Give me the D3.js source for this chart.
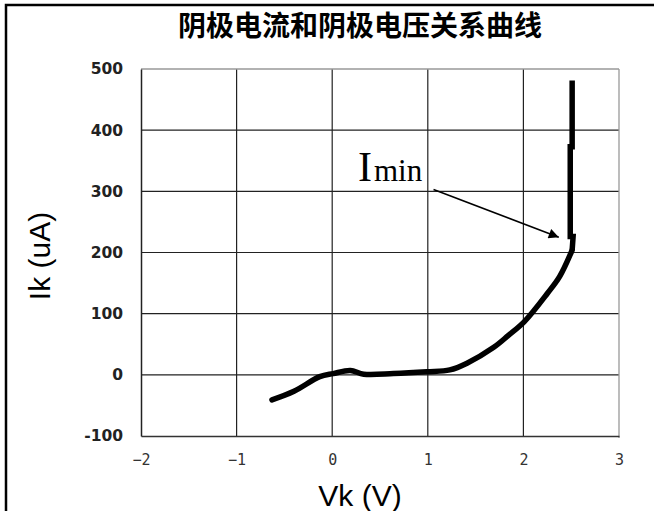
<!DOCTYPE html>
<html><head><meta charset="utf-8">
<script src="https://cdn.jsdelivr.net/npm/d3@7"></script>
<style>body{margin:0;background:#fff}svg{display:block}</style>
</head><body>
<svg id="c" width="654" height="511"></svg>
<script>
const title = "阴极电流和阴极电压关系曲线";
const xLabel = "Vk (V)";
const yLabel = "Ik (uA)";
const xTicks = [-2, -1, 0, 1, 2, 3];
const yTicks = [-100, 0, 100, 200, 300, 400, 500];
const vk = [-0.63, -0.40, -0.13, 0.01, 0.19, 0.33, 0.64, 0.99, 1.23, 1.41, 1.69, 1.84, 2.01, 2.25, 2.38, 2.51, 2.52, 2.49, 2.49, 2.51, 2.51];
const ik = [-41, -27, -3, 2, 7, 1, 2, 5, 8, 19, 45, 64, 87, 133, 161, 204, 226, 226, 373, 373, 481];
const annText = ["I", "min"];
const annLabelAt = [0.27, 317];
const arrowFrom = [1.06, 303];
const arrowTo = [2.37, 225];

const svg = d3.select("#c");
const x = d3.scaleLinear().domain([-2, 3]).range([141, 619]);
const y = d3.scaleLinear().domain([-100, 500]).range([436, 69]);

// outer frame
svg.append("rect").attr("x", 6).attr("y", 5).attr("width", 660).attr("height", 520)
  .attr("fill", "none").attr("stroke", "#000").attr("stroke-width", 2.5);

// title
svg.append("text").attr("x", 360).attr("y", 36).attr("text-anchor", "middle")
  .attr("font-family", "Noto Sans CJK SC").attr("font-weight", "bold").attr("font-size", 28)
  .text(title);

// grid
const g = svg.append("g");
g.selectAll("line.gx").data(xTicks.slice(1, -1)).join("line")
  .attr("x1", d => x(d)).attr("x2", d => x(d)).attr("y1", y(500)).attr("y2", y(-100))
  .attr("stroke", "#222").attr("stroke-width", 1.2);
g.selectAll("line.gy").data(yTicks.slice(1, -1)).join("line")
  .attr("y1", d => y(d)).attr("y2", d => y(d)).attr("x1", x(-2)).attr("x2", x(3))
  .attr("stroke", "#222").attr("stroke-width", 1.2);
g.append("line").attr("x1", x(-2)).attr("x2", x(3)).attr("y1", y(500)).attr("y2", y(500)).attr("stroke", "#999").attr("stroke-width", 1.3);
g.append("line").attr("x1", x(3)).attr("x2", x(3)).attr("y1", y(500)).attr("y2", y(-100) + 2).attr("stroke", "#999").attr("stroke-width", 1.3);

// axes
const xAxis = svg.append("g").attr("transform", `translate(0,${y(-100)})`)
  .call(d3.axisBottom(x).tickValues(xTicks).tickSize(0).tickPadding(18).tickFormat(d => d < 0 ? "\u2212" + Math.abs(d) : String(d)));
xAxis.select(".domain").attr("stroke", "#333").attr("stroke-width", 1.5);
xAxis.selectAll("text").attr("font-family", "DejaVu Sans Mono").attr("font-size", 15).attr("fill", "#333");

const yAxis = svg.append("g").attr("transform", `translate(${x(-2)},0)`)
  .call(d3.axisLeft(y).tickValues(yTicks).tickSize(0).tickPadding(18).tickFormat(d => String(d)));
yAxis.select(".domain").attr("stroke", "#222").attr("stroke-width", 1.5);
yAxis.selectAll("text").attr("font-family", "DejaVu Sans").attr("font-weight", "bold").attr("font-size", 15.5).attr("fill", "#222");

// axis titles
svg.append("text").attr("x", 360).attr("y", 506).attr("text-anchor", "middle")
  .attr("font-family", "Liberation Sans").attr("font-size", 30).text(xLabel);
svg.append("text").attr("transform", "translate(50,256) rotate(-90)").attr("text-anchor", "middle")
  .attr("font-family", "Liberation Sans").attr("font-size", 30).text(yLabel);

// curve: smooth rise, then the near-vertical part drawn straight
const pts = vk.map((v, i) => [v, ik[i]]);
const lineSmooth = d3.line().x(d => x(d[0])).y(d => y(d[1])).curve(d3.curveCatmullRom.alpha(0.5));
const lineStraight = d3.line().x(d => x(d[0])).y(d => y(d[1])).curve(d3.curveStepBefore);
svg.append("path").datum(pts.slice(0, 16)).attr("d", lineSmooth)
  .attr("fill", "none").attr("stroke", "#000").attr("stroke-width", 5.5)
  .attr("stroke-linejoin", "round").attr("stroke-linecap", "round");
svg.append("path").datum(pts.slice(15)).attr("d", d3.line().x(d => x(d[0])).y(d => y(d[1])))
  .attr("fill", "none").attr("stroke", "#000").attr("stroke-width", 5.5)
  .attr("stroke-linejoin", "miter").attr("stroke-linecap", "butt");

// annotation
svg.append("defs").append("marker").attr("id", "ah").attr("viewBox", "0 0 10 10")
  .attr("refX", 10).attr("refY", 5).attr("markerWidth", 16).attr("markerHeight", 10)
  .attr("markerUnits", "userSpaceOnUse").attr("orient", "auto")
  .append("path").attr("d", "M0,0 L10,5 L0,10 Z").attr("fill", "#000");
svg.append("line").attr("x1", x(arrowFrom[0])).attr("y1", y(arrowFrom[1]))
  .attr("x2", x(arrowTo[0])).attr("y2", y(arrowTo[1]))
  .attr("stroke", "#000").attr("stroke-width", 1.5).attr("marker-end", "url(#ah)");
const lab = svg.append("text").attr("x", x(annLabelAt[0])).attr("y", y(annLabelAt[1]))
  .attr("font-family", "Liberation Serif");
lab.append("tspan").attr("font-size", 42).text(annText[0]);
lab.append("tspan").attr("font-size", 31).attr("dx", 2).text(annText[1]);
</script>
</body></html>
